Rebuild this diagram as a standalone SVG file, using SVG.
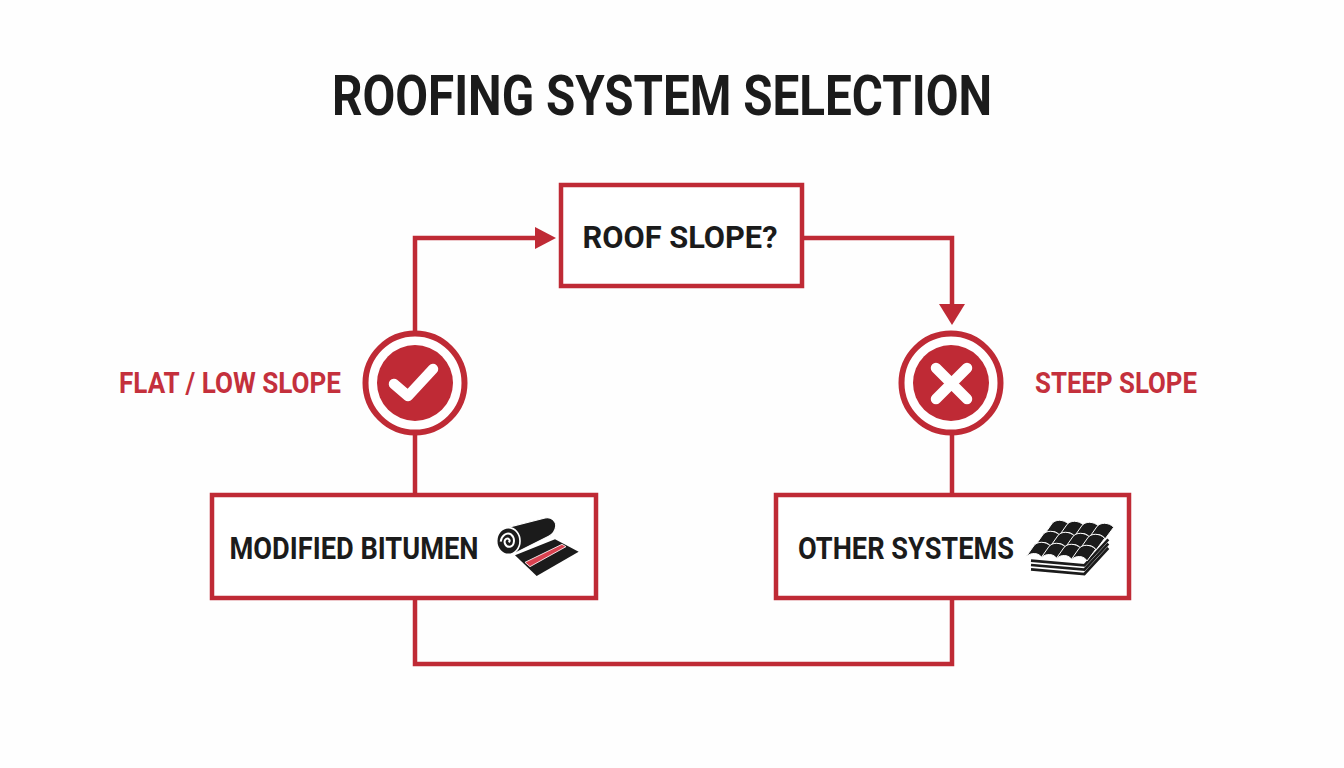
<svg xmlns="http://www.w3.org/2000/svg" width="1344" height="768" viewBox="0 0 1344 768">
<style>
text{font-family:"Roboto","Liberation Sans",sans-serif;font-weight:700}
.t{fill:#1b1b1b;font-size:31px}
.r{fill:#c4303c;font-size:29px}
.box{fill:#fff;stroke:#bf2a35;stroke-width:4.500}
.c{fill:none;stroke:#bf2a35;stroke-width:4.500}
.ring{fill:#fff;stroke:#bf2a35;stroke-width:6}
.dot{fill:#bf2a35}
.g{fill:none;stroke:#fff;stroke-width:10.500;stroke-linecap:round;stroke-linejoin:round}
.tile{fill:#1b1b1b;stroke:#fff;stroke-width:3;stroke-linejoin:round}
.layer{fill:none;stroke:#1b1b1b;stroke-width:8}
</style>
<defs>
<marker id="a" markerUnits="userSpaceOnUse" markerWidth="24" markerHeight="24" refX="11" refY="12" orient="auto"><path d="M0 1L21 12L0 23Z" fill="#bf2a35"/></marker>
<marker id="b" markerUnits="userSpaceOnUse" markerWidth="24" markerHeight="28" refX="11" refY="14" orient="auto"><path d="M0 1L21 14L0 27Z" fill="#bf2a35"/></marker>
<path id="tl" class="tile" d="M-3 2L21 -32C30 -47 58 -47 72 -31L46 4C38 -12 12 -15 -3 2Z"/>
</defs>
<rect width="1344" height="768" fill="#fefefe"/>
<text x="662" y="115" text-anchor="middle" font-size="55" fill="#1b1b1b" textLength="660" lengthAdjust="spacingAndGlyphs">ROOFING SYSTEM SELECTION</text>
<g id="connectors">
<path class="c" d="M415 332V238H546" marker-end="url(#a)"/>
<path class="c" d="M803 238H952V315" marker-end="url(#b)"/>
<path class="c" d="M415 434V495"/>
<path class="c" d="M952 434V495"/>
<path class="c" d="M415 598V664H952V598"/>
</g>
<g id="roof-slope"><rect class="box" x="561" y="185" width="241" height="101"/><text class="t" x="680" y="248" text-anchor="middle" textLength="195" lengthAdjust="spacingAndGlyphs">ROOF SLOPE?</text></g>
<g id="flat-check"><circle class="ring" cx="415" cy="383" r="49.500"/><circle class="dot" cx="415" cy="383" r="38"/><path class="g" d="M394 384L408 396L433 369"/></g>
<g id="steep-x"><circle class="ring" cx="951" cy="383" r="49.500"/><circle class="dot" cx="951" cy="383" r="38"/><path class="g" d="M936 368L967 399M967 368L936 399"/></g>
<g id="flat-label"><text class="r" x="230" y="393" text-anchor="middle" textLength="222" lengthAdjust="spacingAndGlyphs">FLAT / LOW SLOPE</text></g>
<g id="steep-label"><text class="r" x="1116" y="393" text-anchor="middle" textLength="162" lengthAdjust="spacingAndGlyphs">STEEP SLOPE</text></g>
<g id="modified-bitumen"><rect class="box" x="212" y="495" width="384" height="103"/><text class="t" x="354" y="559" text-anchor="middle" textLength="249" lengthAdjust="spacingAndGlyphs">MODIFIED BITUMEN</text>
<g transform="translate(480 510) scale(.33333)">
<path d="M105 136L225 88L296 125L170 198Z" fill="#1b1b1b"/>
<path d="M135 157L246 103L258 110L150 170Z" fill="#d8414f" stroke="#fff" stroke-width="2.500"/>
<path d="M68 56L195 24C215 19 229 35 227 50C225 65 216 74 206 79L112 126C95 134 70 130 58 105Z" fill="#1b1b1b" stroke="#fff" stroke-width="3.500"/>
<ellipse cx="85" cy="93" rx="35" ry="40" fill="#1b1b1b" stroke="#fff" stroke-width="5"/>
<path d="M86 97C93 91 85 82 78 87C69 94 76 112 90 110C104 108 106 84 94 74C80 64 64 78 62 95" fill="none" stroke="#fff" stroke-width="6"/>
</g>
</g>
<g id="other-systems"><rect class="box" x="776" y="495" width="353" height="103"/><text class="t" x="906" y="559" text-anchor="middle" textLength="216" lengthAdjust="spacingAndGlyphs">OTHER SYSTEMS</text>
<g transform="translate(1015 505) scale(.33333)">
<path class="layer" d="M48 167L208 181L280 103"/>
<path class="layer" d="M48 180L208 194L280 116"/>
<path class="layer" d="M48 193L208 207L280 129"/>
<use href="#tl" x="89" y="89"/><use href="#tl" x="134" y="92"/><use href="#tl" x="179" y="95"/><use href="#tl" x="224" y="98"/>
<use href="#tl" x="62" y="122"/><use href="#tl" x="107" y="125"/><use href="#tl" x="152" y="128"/><use href="#tl" x="197" y="131"/>
<use href="#tl" x="35" y="155"/><use href="#tl" x="80" y="158"/><use href="#tl" x="125" y="161"/><use href="#tl" x="170" y="164"/>
</g>
</g>
</svg>
